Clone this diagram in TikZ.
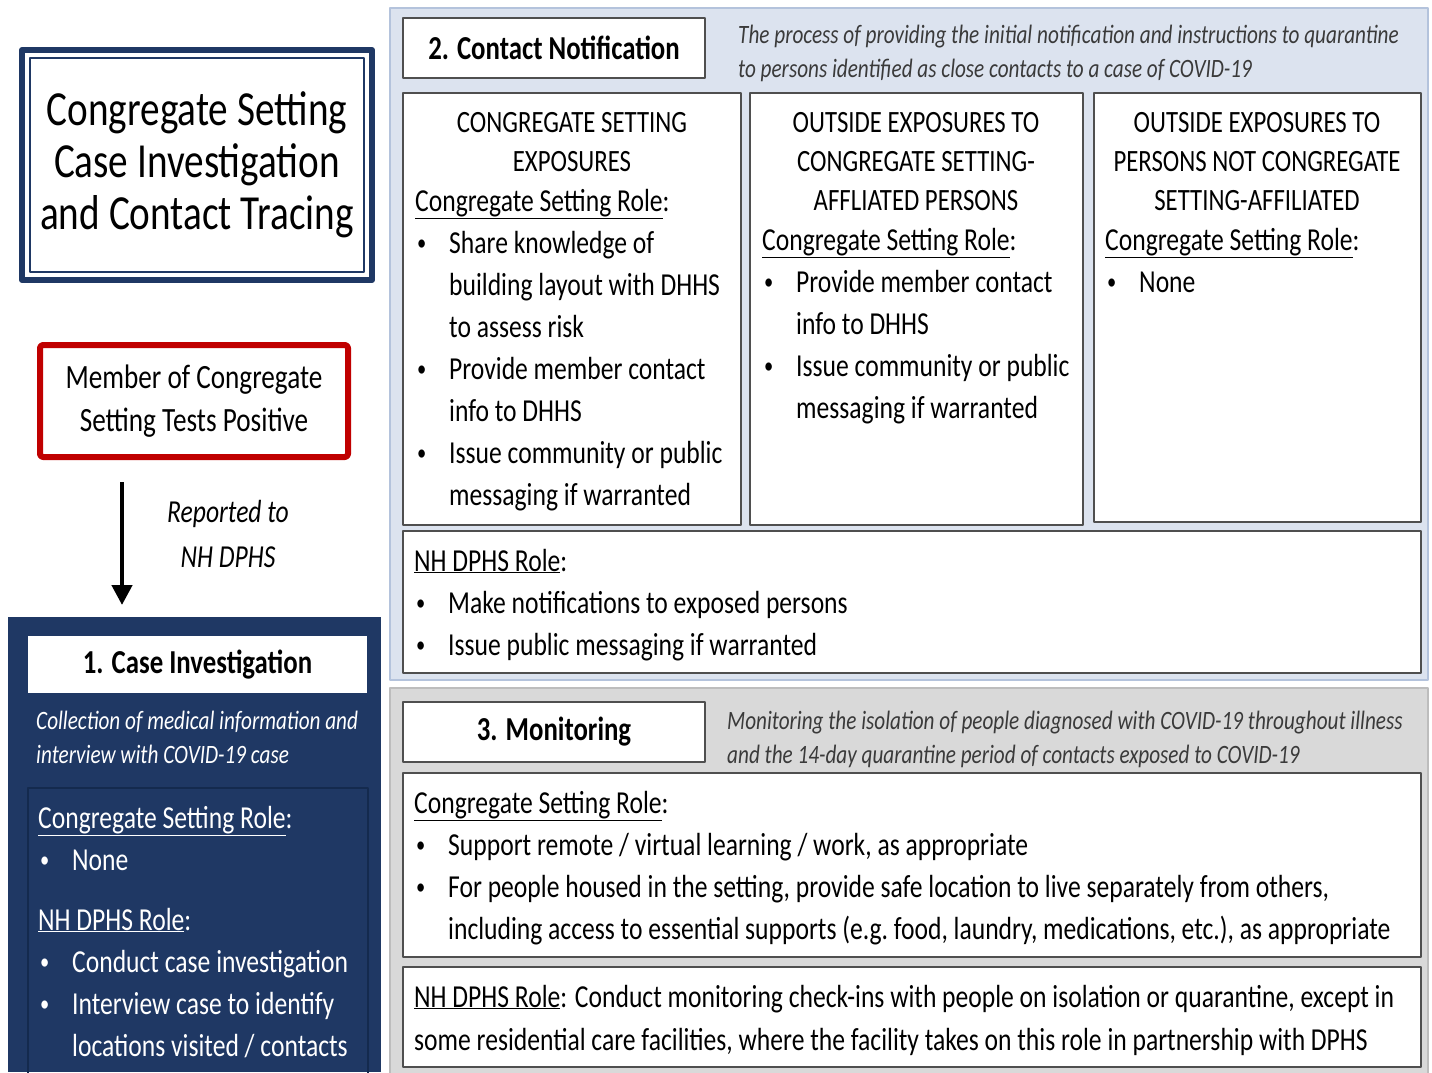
\documentclass[tikz,border=0pt]{standalone}
\usepackage{fontspec}
\setmainfont{Carlito}[FakeStretch=0.8]
\usetikzlibrary{arrows.meta}

\definecolor{navy}{HTML}{1F3864}
\definecolor{navyline}{HTML}{142A4E}
\definecolor{ctred}{HTML}{C00000}
\definecolor{paleblue}{HTML}{DCE3EF}
\definecolor{paleblueline}{HTML}{B4C3DC}
\definecolor{panelgray}{HTML}{D9D9D9}
\definecolor{grayline}{HTML}{BDBDBD}
\definecolor{boxline}{HTML}{4F4F4F}
\definecolor{desctext}{HTML}{3A3A3A}

% bullet and hanging indent for the role lists
\newcommand{\bul}{\makebox[34pt][l]{\hspace{2pt}\raisebox{2.5pt}{\scalebox{0.72}{\textbullet}}}}
\newcommand{\ind}{\hspace*{34pt}}

\begin{document}
\begin{tikzpicture}[x=1pt,y=-1pt,line join=round,
    panel/.style={inner sep=0pt,outer sep=0pt,anchor=north west,line width=1.5pt},
    box/.style={draw=boxline,line width=2.4pt,fill=white,inner sep=0pt,outer sep=0pt,anchor=north west},
    stage/.style={box,font=\bfseries\fontsize{33.5}{40}\selectfont},
    txt/.style={inner sep=0pt,anchor=base west,align=flush left,text width=#1,font=\fontsize{32}{42}\selectfont},
    hdr/.style={inner sep=0pt,anchor=base,align=flush center,text width=#1,font=\fontsize{31}{39}\selectfont},
    desc/.style={inner sep=0pt,anchor=base west,align=flush left,text width=760pt,text=desctext,font=\itshape\fontsize{26.5}{34}\selectfont},
    report/.style={line width=4.5pt,-{Triangle[length=20pt,width=20pt]},shorten <=25pt,shorten >=12pt}]
  \useasboundingbox (0,0) rectangle (1432,1072);
  \clip (0,0) rectangle (1432,1072);

  % left column: title, trigger and case investigation
  \node[panel,draw=navy,line width=6pt,minimum width=350pt,minimum height=230pt,
    align=center,font=\fontsize{49}{52}\selectfont] (ttl) at (22,50)
    {Congregate Setting\\Case Investigation\\and Contact Tracing};
  \node[draw=navy,line width=1.5pt,inner sep=0pt,minimum width=334pt,minimum height=214pt] (ttlin) at (ttl.center) {};

  \node[panel,draw=ctred,line width=6pt,rounded corners=3pt,minimum width=308pt,minimum height=112pt,
    align=center,font=\fontsize{34}{43}\selectfont] (pos) at (40,345)
    {Member of Congregate\\Setting Tests Positive};

  \node[inner sep=0pt,anchor=base,align=flush center,text width=200pt,font=\itshape\fontsize{32}{45}\selectfont]
    (rep) at (228,522) {Reported to\\NH DPHS};

  \node[panel,fill=navy,minimum width=373pt,minimum height=455pt] (ci) at (8,617) {};
  \coordinate (rx) at (122,0);
  \draw[report] (pos.south -| rx) -- (ci.north -| rx);

  \node[stage,draw=none,minimum width=339pt,minimum height=57pt] (cihead) at (28,636) {1. Case Investigation};
  \node[desc,text=white,text width=345pt] (cidesc) at (36,729)
    {Collection of medical information and\\interview with COVID-19 case};
  \node[panel,draw=navyline,line width=2pt,minimum width=340pt,minimum height=300pt] (cirole) at (28,788) {};
  \node[txt=330pt,text=white] (cics) at (38,828) {\underline{Congregate Setting Role}:\\\bul None};
  \node[txt=330pt,text=white] (cinh) at (38,930)
    {\underline{NH DPHS Role}:\\\bul Conduct case investigation\\\bul Interview case to identify\\\ind locations visited / contacts};

  % contact notification
  \node[panel,fill=paleblue,draw=paleblueline,minimum width=1038pt,minimum height=672pt] (cn) at (390,8) {};
  \node[stage,minimum width=302pt,minimum height=60pt] (cnhead) at (403,18) {2. Contact Notification};
  \node[desc] (cndesc) at (738,43)
    {The process of providing the initial notification and instructions to quarantine\\to persons identified as close contacts to a case of COVID-19};

  \node[box,minimum width=338pt,minimum height=432pt] (cs) at (403,93) {};
  \node[box,minimum width=333pt,minimum height=432pt] (oa) at (750,93) {};
  \node[box,minimum width=327pt,minimum height=429pt] (on) at (1094,93) {};
  \node[box,minimum width=1018pt,minimum height=142pt] (cnrole) at (403,531) {};

  \node[hdr=330pt] (cshdr) at (572,132) {CONGREGATE SETTING\\EXPOSURES};
  \node[hdr=330pt] (oahdr) at (916,132) {OUTSIDE EXPOSURES TO\\CONGREGATE SETTING-\\AFFLIATED PERSONS};
  \node[hdr=320pt] (onhdr) at (1257,132) {OUTSIDE EXPOSURES TO\\PERSONS NOT CONGREGATE\\SETTING-AFFILIATED};

  \node[txt=330pt] (cstxt) at (415,211)
    {\underline{Congregate Setting Role}:\\\bul Share knowledge of\\\ind building layout with DHHS\\\ind to assess risk\\
     \bul Provide member contact\\\ind info to DHHS\\\bul Issue community or public\\\ind messaging if warranted};
  \node[txt=325pt] (oatxt) at (762,250)
    {\underline{Congregate Setting Role}:\\\bul Provide member contact\\\ind info to DHHS\\\bul Issue community or public\\\ind messaging if warranted};
  \node[txt=315pt] (ontxt) at (1105,250) {\underline{Congregate Setting Role}:\\\bul None};
  \node[txt=1000pt] (cnroletxt) at (414,571)
    {\underline{NH DPHS Role}:\\\bul Make notifications to exposed persons\\\bul Issue public messaging if warranted};

  % monitoring
  \node[panel,fill=panelgray,draw=grayline,minimum width=1038pt,minimum height=390pt] (mo) at (390,688) {};
  \node[stage,minimum width=302pt,minimum height=60pt] (mohead) at (403,702) {3. Monitoring};
  \node[desc] (modesc) at (727,729)
    {Monitoring the isolation of people diagnosed with COVID-19 throughout illness\\and the 14-day quarantine period of contacts exposed to COVID-19};

  \node[box,minimum width=1018pt,minimum height=184pt] (mocs) at (403,773) {};
  \node[txt=1100pt] (mocstxt) at (414,813)
    {\underline{Congregate Setting Role}:\\\bul Support remote / virtual learning / work, as appropriate\\
     \bul For people housed in the setting, provide safe location to live separately from others,\\
     \ind including access to essential supports (e.g.\ food, laundry, medications, etc.), as appropriate};
  \node[box,minimum width=1018pt,minimum height=100pt] (monh) at (403,967) {};
  \node[txt=1100pt,font=\fontsize{32}{43}\selectfont] (monhtxt) at (414,1007)
    {\underline{NH DPHS Role}: Conduct monitoring check-ins with people on isolation or quarantine, except in\\
     some residential care facilities, where the facility takes on this role in partnership with DPHS};
\end{tikzpicture}
\end{document}
